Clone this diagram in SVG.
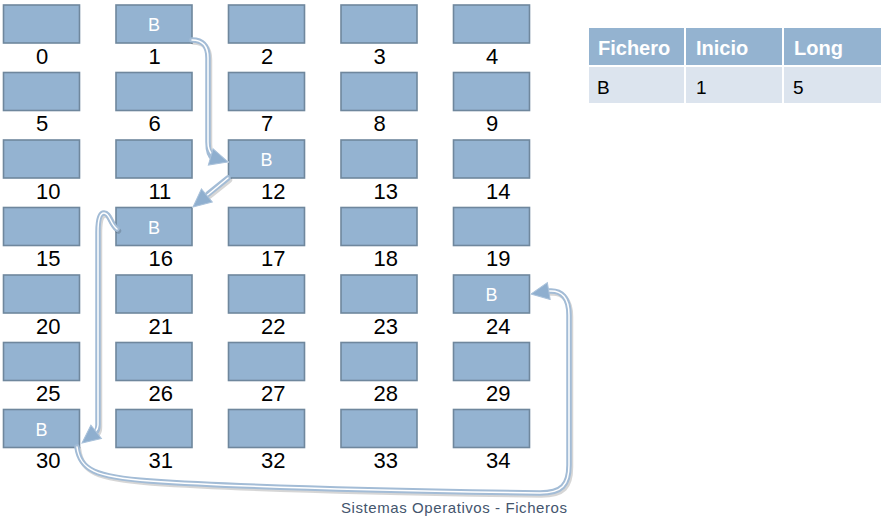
<svg xmlns="http://www.w3.org/2000/svg" width="885" height="521" viewBox="0 0 885 521">
<style>
.blk rect{fill:#94B3D1;stroke:#6F879D;stroke-width:1.6}
.blk .n{font-family:"Liberation Sans",Arial,sans-serif;font-size:22px;fill:#000}
.blk .b{font-family:"Liberation Sans",Arial,sans-serif;font-size:18px;fill:#fff;text-anchor:middle}
.sh{fill:none;stroke:#000;stroke-opacity:0.16;stroke-width:5.5;stroke-linecap:round;stroke-linejoin:round}
.out{fill:none;stroke:#A3BCD6;stroke-width:5.5;stroke-linecap:round;stroke-linejoin:round}
.inn{fill:none;stroke:#fff;stroke-width:1.5;stroke-linecap:round;stroke-linejoin:round}
.th{fill:#94B3D0}
.td{fill:#DCE4EE}
.tht{font-family:"Liberation Sans",Arial,sans-serif;font-weight:bold;font-size:20px;fill:#fff}
.tdt{font-family:"Liberation Sans",Arial,sans-serif;font-size:19px;fill:#000}
.foot{font-family:"Liberation Sans",Arial,sans-serif;font-size:15px;fill:#44556D}
</style>
<defs>
<marker id="ah" markerUnits="userSpaceOnUse" markerWidth="22" markerHeight="22" viewBox="0 0 22 22" refX="19" refY="11" orient="auto">
<path d="M1,2.5 L19,11 L1,19.5 Z" fill="#8FAFCF" stroke="#A9C1DA" stroke-width="1"/>
</marker>
</defs>
<g id="blocks">
<g id="b0" class="blk"><rect x="3.5" y="5" width="76" height="38"/><text class="n" x="36" y="63.5">0</text></g>
<g id="b1" class="blk"><rect x="116" y="5" width="76" height="38"/><text class="b" x="154" y="31">B</text><text class="n" x="148.5" y="63.5">1</text></g>
<g id="b2" class="blk"><rect x="228.5" y="5" width="76" height="38"/><text class="n" x="261" y="63.5">2</text></g>
<g id="b3" class="blk"><rect x="341" y="5" width="76" height="38"/><text class="n" x="373.5" y="63.5">3</text></g>
<g id="b4" class="blk"><rect x="453.5" y="5" width="76" height="38"/><text class="n" x="486" y="63.5">4</text></g>
<g id="b5" class="blk"><rect x="3.5" y="72.5" width="76" height="38"/><text class="n" x="36" y="131">5</text></g>
<g id="b6" class="blk"><rect x="116" y="72.5" width="76" height="38"/><text class="n" x="148.5" y="131">6</text></g>
<g id="b7" class="blk"><rect x="228.5" y="72.5" width="76" height="38"/><text class="n" x="261" y="131">7</text></g>
<g id="b8" class="blk"><rect x="341" y="72.5" width="76" height="38"/><text class="n" x="373.5" y="131">8</text></g>
<g id="b9" class="blk"><rect x="453.5" y="72.5" width="76" height="38"/><text class="n" x="486" y="131">9</text></g>
<g id="b10" class="blk"><rect x="3.5" y="140" width="76" height="38"/><text class="n" x="36" y="198.5">10</text></g>
<g id="b11" class="blk"><rect x="116" y="140" width="76" height="38"/><text class="n" x="148.5" y="198.5">11</text></g>
<g id="b12" class="blk"><rect x="228.5" y="140" width="76" height="38"/><text class="b" x="266.5" y="166">B</text><text class="n" x="261" y="198.5">12</text></g>
<g id="b13" class="blk"><rect x="341" y="140" width="76" height="38"/><text class="n" x="373.5" y="198.5">13</text></g>
<g id="b14" class="blk"><rect x="453.5" y="140" width="76" height="38"/><text class="n" x="486" y="198.5">14</text></g>
<g id="b15" class="blk"><rect x="3.5" y="207.5" width="76" height="38"/><text class="n" x="36" y="266">15</text></g>
<g id="b16" class="blk"><rect x="116" y="207.5" width="76" height="38"/><text class="b" x="154" y="233.5">B</text><text class="n" x="148.5" y="266">16</text></g>
<g id="b17" class="blk"><rect x="228.5" y="207.5" width="76" height="38"/><text class="n" x="261" y="266">17</text></g>
<g id="b18" class="blk"><rect x="341" y="207.5" width="76" height="38"/><text class="n" x="373.5" y="266">18</text></g>
<g id="b19" class="blk"><rect x="453.5" y="207.5" width="76" height="38"/><text class="n" x="486" y="266">19</text></g>
<g id="b20" class="blk"><rect x="3.5" y="275" width="76" height="38"/><text class="n" x="36" y="333.5">20</text></g>
<g id="b21" class="blk"><rect x="116" y="275" width="76" height="38"/><text class="n" x="148.5" y="333.5">21</text></g>
<g id="b22" class="blk"><rect x="228.5" y="275" width="76" height="38"/><text class="n" x="261" y="333.5">22</text></g>
<g id="b23" class="blk"><rect x="341" y="275" width="76" height="38"/><text class="n" x="373.5" y="333.5">23</text></g>
<g id="b24" class="blk"><rect x="453.5" y="275" width="76" height="38"/><text class="b" x="491.5" y="301">B</text><text class="n" x="486" y="333.5">24</text></g>
<g id="b25" class="blk"><rect x="3.5" y="342.5" width="76" height="38"/><text class="n" x="36" y="401">25</text></g>
<g id="b26" class="blk"><rect x="116" y="342.5" width="76" height="38"/><text class="n" x="148.5" y="401">26</text></g>
<g id="b27" class="blk"><rect x="228.5" y="342.5" width="76" height="38"/><text class="n" x="261" y="401">27</text></g>
<g id="b28" class="blk"><rect x="341" y="342.5" width="76" height="38"/><text class="n" x="373.5" y="401">28</text></g>
<g id="b29" class="blk"><rect x="453.5" y="342.5" width="76" height="38"/><text class="n" x="486" y="401">29</text></g>
<g id="b30" class="blk"><rect x="3.5" y="409.5" width="76" height="38"/><text class="b" x="41.5" y="435.5">B</text><text class="n" x="36" y="468">30</text></g>
<g id="b31" class="blk"><rect x="116" y="409.5" width="76" height="38"/><text class="n" x="148.5" y="468">31</text></g>
<g id="b32" class="blk"><rect x="228.5" y="409.5" width="76" height="38"/><text class="n" x="261" y="468">32</text></g>
<g id="b33" class="blk"><rect x="341" y="409.5" width="76" height="38"/><text class="n" x="373.5" y="468">33</text></g>
<g id="b34" class="blk"><rect x="453.5" y="409.5" width="76" height="38"/><text class="n" x="486" y="468">34</text></g>
</g>
<g id="connectors">
<g transform="translate(1.5,2)">
<path class="sh" d="M192,40 C203,40 208,46 208,58 L208,142 C208,152 211,157 213,158"/>
<path class="sh" d="M228,178 L208,194"/>
<path class="sh" d="M117,229 C110,224 110,213 104,213 C99,213 98,222 98,232 L98,425 C98,429 97,431 96,432"/>
<path class="sh" d="M77,447 C80,470 95,477 150,481 C250,488 400,491 540,493 C562,493 569,485 569,465 L569,315 C569,298 562,290 549,291"/>
</g>
<path class="out" d="M192,40 C203,40 208,46 208,58 L208,142 C208,152 211,157 213,158"/>
<path class="inn" d="M192,40 C203,40 208,46 208,58 L208,142 C208,152 211,157 228,162" marker-end="url(#ah)"/>
<path class="out" d="M228,178 L208,194"/>
<path class="inn" d="M228,178 L193,207" marker-end="url(#ah)"/>
<path class="out" d="M117,229 C110,224 110,213 104,213 C99,213 98,222 98,232 L98,425 C98,429 97,431 96,432"/>
<path class="inn" d="M117,229 C110,224 110,213 104,213 C99,213 98,222 98,232 L98,425 C98,430 96,432 82,443" marker-end="url(#ah)"/>
<path class="out" d="M77,447 C80,470 95,477 150,481 C250,488 400,491 540,493 C562,493 569,485 569,465 L569,315 C569,298 562,290 549,291"/>
<path class="inn" d="M77,447 C80,470 95,477 150,481 C250,488 400,491 540,493 C562,493 569,485 569,465 L569,315 C569,298 562,290 549,291 L531,294" marker-end="url(#ah)"/>
</g>
<g id="table">
<rect class="th" x="589" y="28" width="95" height="37"/>
<rect class="th" x="686" y="28" width="96" height="37"/>
<rect class="th" x="784" y="28" width="97" height="37"/>
<rect class="td" x="589" y="67" width="95" height="36"/>
<rect class="td" x="686" y="67" width="96" height="36"/>
<rect class="td" x="784" y="67" width="97" height="36"/>
<text class="tht" x="598" y="55">Fichero</text>
<text class="tht" x="696" y="55">Inicio</text>
<text class="tht" x="794" y="55">Long</text>
<text class="tdt" x="597" y="94">B</text>
<text class="tdt" x="696" y="94">1</text>
<text class="tdt" x="793" y="94">5</text>
</g>
<text class="foot" x="341" y="513" textLength="226">Sistemas Operativos - Ficheros</text>
</svg>
